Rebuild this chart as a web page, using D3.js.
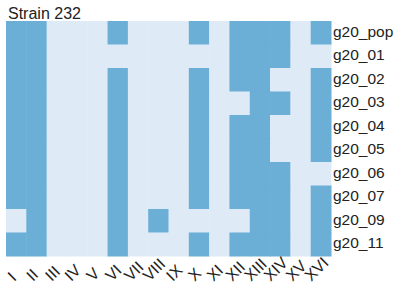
<!DOCTYPE html>
<html>
<head>
<meta charset="utf-8">
<script src="https://cdn.jsdelivr.net/npm/d3@7"></script>
<style>
  body { margin: 0; background: #fff; }
</style>
</head>
<body>
<svg id="svg"></svg>
<script>
// columns (chromosomes) and rows (samples)
const chromosomes = ['I','II','III','IV','V','VI','VII','VIII','IX','X','XI','XII','XIII','XIV','XV','XVI'];
const samples = ['g20_pop','g20_01','g20_02','g20_03','g20_04','g20_05','g20_06','g20_07','g20_09','g20_11'];

// 1 = present (dark), 0 = absent (light), one row per sample
const g20_pop = [1,1,0,0,0,1,0,0,0,1,0,1,1,1,0,1];
const g20_01  = [1,1,0,0,0,0,0,0,0,0,0,1,1,1,0,0];
const g20_02  = [1,1,0,0,0,1,0,0,0,1,0,1,1,0,0,1];
const g20_03  = [1,1,0,0,0,1,0,0,0,1,0,0,1,1,0,1];
const g20_04  = [1,1,0,0,0,1,0,0,0,1,0,1,1,0,0,1];
const g20_05  = [1,1,0,0,0,1,0,0,0,1,0,1,1,0,0,1];
const g20_06  = [1,1,0,0,0,1,0,0,0,1,0,1,1,1,0,0];
const g20_07  = [1,1,0,0,0,1,0,0,0,1,0,1,1,1,0,1];
const g20_09  = [0,1,0,0,0,1,0,1,0,0,0,0,1,1,0,1];
const g20_11  = [1,1,0,0,0,1,0,0,0,1,0,1,1,1,0,1];

const rows = [g20_pop, g20_01, g20_02, g20_03, g20_04, g20_05, g20_06, g20_07, g20_09, g20_11];

const cells = [];
rows.forEach((r, i) => r.forEach((v, j) => cells.push({ sample: samples[i], chrom: chromosomes[j], v })));

const W = 397, H = 288;
const margin = { top: 21, right: 66, bottom: 32, left: 6 };
const width = W - margin.left - margin.right;
const height = H - margin.top - margin.bottom;

const svg = d3.select('#svg').attr('width', W).attr('height', H)
  .style('font-family', '"Liberation Sans", Arial, sans-serif');

const x = d3.scaleBand().domain(chromosomes).range([0, width]);
const y = d3.scaleBand().domain(samples).range([0, height]);
const colour = d3.scaleOrdinal().domain([0, 1]).range(['#deebf7', '#6baed6']);

const g = svg.append('g').attr('transform', `translate(${margin.left},${margin.top})`);

g.selectAll('rect')
  .data(cells)
  .enter()
  .append('rect')
  .attr('x', d => x(d.chrom))
  .attr('y', d => y(d.sample))
  .attr('width', x.bandwidth() + 0.5)
  .attr('height', y.bandwidth() + 0.5)
  .attr('fill', d => colour(d.v));

// right axis with sample names
const yAxis = g.append('g')
  .attr('transform', `translate(${width},0)`)
  .call(d3.axisRight(y).tickSize(0).tickPadding(2));
yAxis.select('.domain').remove();
yAxis.selectAll('text')
  .attr('font-size', 15.5)
  .attr('fill', '#222')
  .attr('font-family', null)
  .attr('dy', '0.27em');

// bottom axis, rotated labels: rotated box centred a bit left of the tick, bottoms aligned
const xAxis = g.append('g')
  .attr('transform', `translate(0,${height})`)
  .call(d3.axisBottom(x).tickSize(0).tickPadding(0));
xAxis.select('.domain').remove();
const c = Math.SQRT1_2;
xAxis.selectAll('text')
  .attr('font-size', 16)
  .attr('fill', '#222')
  .attr('font-family', null)
  .attr('dy', null)
  .attr('y', 0)
  .style('text-anchor', 'start')
  .each(function() {
    const b = this.getBBox();
    // ink roughly from baseline-0.72em to baseline; rotate(-45) about origin
    const capH = 16 * 0.72;
    const w = b.width;
    const cx = c * (w - capH) / 2;
    const px = -4.5 - cx;
    const py = 26;
    d3.select(this).attr('transform', `translate(${px},${py}) rotate(-45)`);
  });

// title
svg.append('text')
  .attr('x', 8)
  .attr('y', 19)
  .attr('font-size', 16)
  .attr('fill', '#222')
  .text('Strain 232');
</script>
</body>
</html>
